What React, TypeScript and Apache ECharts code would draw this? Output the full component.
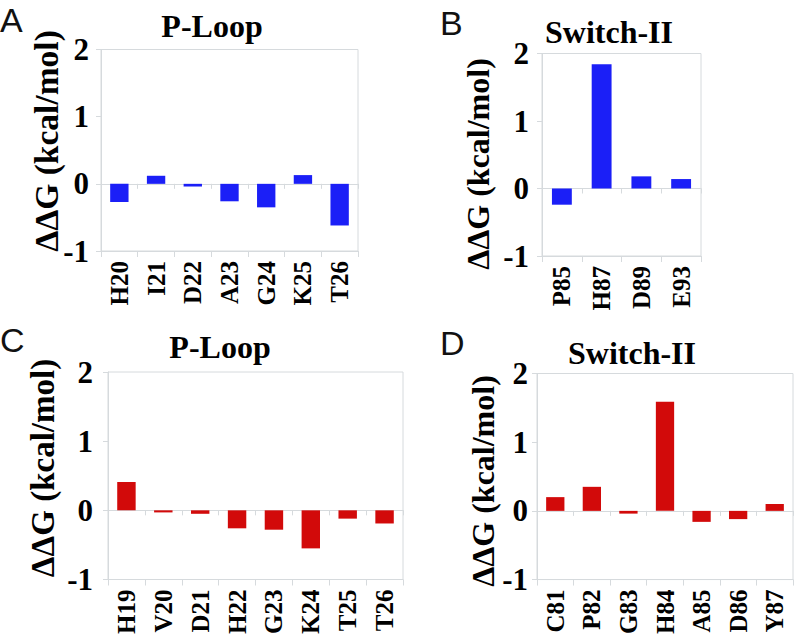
import React, { useEffect, useRef } from "react";
import * as echarts from "echarts";

const catsA = ["H20", "I21", "D22", "A23", "G24", "K25", "T26"];
const valsA = [-0.27, 0.12, -0.04, -0.26, -0.35, 0.13, -0.62];
const catsB = ["P85", "H87", "D89", "E93"];
const valsB = [-0.24, 1.84, 0.18, 0.14];
const catsC = ["H19", "V20", "D21", "H22", "G23", "K24", "T25", "T26"];
const valsC = [0.41, -0.03, -0.05, -0.26, -0.28, -0.55, -0.12, -0.19];
const catsD = ["C81", "P82", "G83", "H84", "A85", "D86", "Y87"];
const valsD = [0.2, 0.35, -0.04, 1.59, -0.16, -0.12, 0.1];
const yTicks = [-1, 0, 1, 2];
const titles = ["P-Loop", "Switch-II", "P-Loop", "Switch-II"];
const letters = ["A", "B", "C", "D"];
const yName = "ΔΔG (kcal/mol)";

const BLUE = "#1b1ff7";
const RED = "#d20a0a";
const GRAY = "#d6dadd";
const SERIF = "'Liberation Serif', 'Times New Roman', serif";
const SANS = "'Liberation Sans', Arial, sans-serif";

export default function App() {
  const ref = useRef<HTMLDivElement>(null);
  useEffect(() => {
    if (!ref.current) return;
    const chart = echarts.init(ref.current, null, { renderer: "svg" });
    const panels = [
      { cats: catsA, vals: valsA, color: BLUE, grid: { left: 101, top: 49.5, width: 257, height: 201.5 }, lm: 12, title: [212, 26], letter: [0, 3], yname: [46, 141], ys: 33.5 },
      { cats: catsB, vals: valsB, color: BLUE, grid: { left: 542, top: 53.5, width: 159, height: 202.5 }, lm: 13, title: [609, 32], letter: [440, 6], yname: [478, 164], ys: 32 },
      { cats: catsC, vals: valsC, color: RED, grid: { left: 108, top: 372, width: 295, height: 207.5 }, lm: 15, title: [220, 347], letter: [0, 323], yname: [43, 468], ys: 33 },
      { cats: catsD, vals: valsD, color: RED, grid: { left: 537, top: 373.5, width: 256, height: 210 }, lm: 9, title: [632, 353], letter: [440, 326], yname: [483, 481], ys: 32 },
    ];
    const grids: any[] = [];
    const xAxes: any[] = [];
    const yAxes: any[] = [];
    const series: any[] = [];
    const graphics: any[] = [];
    panels.forEach((p, i) => {
      grids.push({ ...p.grid, show: true, borderColor: GRAY, borderWidth: 1, backgroundColor: "transparent" });
      xAxes.push({
        type: "category",
        gridIndex: i,
        data: p.cats,
        position: "bottom",
        axisLine: { show: true, onZero: false, lineStyle: { color: GRAY } },
        axisTick: { show: true, length: 6, lineStyle: { color: GRAY } },
        axisLabel: { rotate: 90, margin: 10, fontFamily: SERIF, fontWeight: "bold", fontSize: 25, color: "#000" },
      });
      xAxes.push({
        type: "category",
        gridIndex: i,
        data: p.cats,
        position: "bottom",
        axisLine: { show: true, onZero: true, lineStyle: { color: GRAY } },
        axisTick: { show: true, length: 5, lineStyle: { color: GRAY } },
        axisLabel: { show: false },
      });
      yAxes.push({
        type: "value",
        gridIndex: i,
        min: yTicks[0],
        max: yTicks[yTicks.length - 1],
        interval: 1,
        axisLine: { show: true, lineStyle: { color: GRAY } },
        axisTick: { show: true, length: 5, lineStyle: { color: GRAY } },
        splitLine: { show: false },
        axisLabel: { margin: p.lm, fontFamily: SERIF, fontWeight: "bold", fontSize: 31, color: "#000" },
      });
      series.push({
        type: "bar",
        xAxisIndex: i * 2,
        yAxisIndex: i,
        data: p.vals,
        barWidth: "50%",
        itemStyle: { color: p.color },
      });
      graphics.push({
        type: "text",
        x: p.title[0],
        y: p.title[1],
        style: { text: titles[i], fontFamily: SERIF, fontWeight: "bold", fontSize: 32, fill: "#000", align: "center", verticalAlign: "middle" },
      });
      graphics.push({
        type: "text",
        x: p.letter[0],
        y: p.letter[1],
        style: { text: letters[i], fontFamily: SANS, fontSize: 34, fill: "#111", align: "left", verticalAlign: "top" },
      });
      graphics.push({
        type: "text",
        x: p.yname[0],
        y: p.yname[1],
        rotation: Math.PI / 2,
        style: { text: yName, fontFamily: SERIF, fontWeight: "bold", fontSize: p.ys, fill: "#000", align: "center", verticalAlign: "middle" },
      });
    });
    chart.setOption({
      animation: false,
      backgroundColor: "#fff",
      grid: grids,
      xAxis: xAxes,
      yAxis: yAxes,
      series,
      graphic: graphics,
    });
    return () => chart.dispose();
  }, []);
  return <div ref={ref} style={{ position: "absolute", left: 0, top: 0, width: 796, height: 637 }} />;
}
